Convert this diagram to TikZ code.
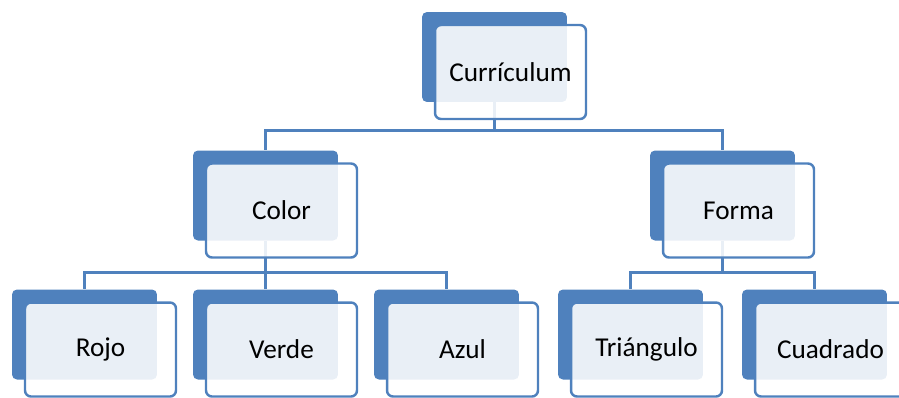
\documentclass[tikz,border=0pt]{standalone}
\usepackage{fontspec}
\setmainfont{Carlito}
\usepackage{xcolor}
\definecolor{ofcblue}{RGB}{79,129,189}

\begin{document}
\begin{tikzpicture}[x=0.02cm,y=-0.02cm,
  back/.style={rectangle,fill=ofcblue,rounded corners=2.8pt,minimum width=2.9cm,minimum height=1.8cm,inner sep=0pt},
  front/.style={rectangle,draw=ofcblue,line width=1.4pt,fill=white,fill opacity=0.88,text opacity=1,rounded corners=3.4pt,minimum width=3.02cm,minimum height=1.88cm,inner sep=0pt,font=\fontsize{15.5}{18}\selectfont},
  conn/.style={draw=ofcblue,line width=1.6pt}]
\useasboundingbox (0,0) rectangle (899,397);
\node[back] (curb) at (494.5,57) {};
\node[back] (colb) at (265.5,195.5) {};
\node[back] (forb) at (722.5,195.5) {};
\node[back] (rojb) at (84.5,334.5) {};
\node[back] (verb) at (265.5,334.5) {};
\node[back] (azub) at (446.5,334.5) {};
\node[back] (trib) at (630.5,334.5) {};
\node[back] (cuab) at (814.5,334.5) {};
\draw[conn] (curb.south) -- ++(0,28) coordinate (curbus) -| (colb.north);
\draw[conn] (curbus) -| (forb.north);
\draw[conn] (colb.south) -- ++(0,32) coordinate (colbus) -| (rojb.north);
\draw[conn] (colbus) -- (verb.north);
\draw[conn] (colbus) -| (azub.north);
\draw[conn] (forb.south) -- ++(0,32) coordinate (forbus) -| (trib.north);
\draw[conn] (forbus) -| (cuab.north);
\node[front] (cur) at ([shift={(16,15)}]curb.center) {Currículum};
\node[front] (col) at ([shift={(16,15)}]colb.center) {Color};
\node[front] (for) at ([shift={(16,15)}]forb.center) {Forma};
\node[front] (roj) at ([shift={(16,15)}]rojb.center) {Rojo};
\node[front] (ver) at ([shift={(16,15)}]verb.center) {Verde};
\node[front] (azu) at ([shift={(16,15)}]azub.center) {Azul};
\node[front] (tri) at ([shift={(16,15)}]trib.center) {Triángulo};
\node[front] (cua) at ([shift={(16,15)}]cuab.center) {Cuadrado};
\end{tikzpicture}
\end{document}
